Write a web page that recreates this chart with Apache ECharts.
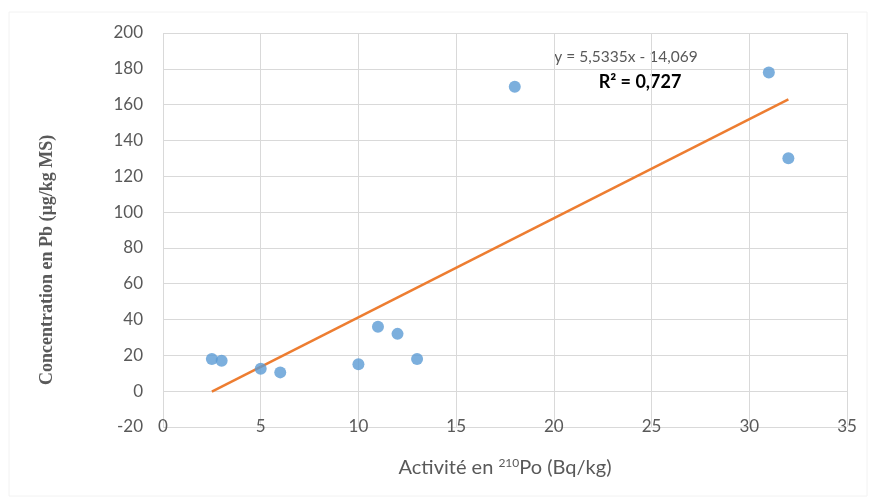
<!DOCTYPE html>
<html>
<head>
    <meta charset="utf-8"/>
    <title>ECharts</title>
    <script src="https://cdn.jsdelivr.net/npm/echarts@6/dist/echarts.min.js"></script>
    <style type="text/css">
        body{ margin:0; background:#fff; }
        #main{ width:870px; height:499px; }
    </style>
</head>
<body>
<div id="main"></div>
<script type="text/javascript">
    // mesures : activité 210Po (Bq/kg) et concentration Pb (µg/kg MS)
    var poActivity = [2.5, 3, 5, 6, 10, 11, 12, 13, 18, 31, 32];
    var pbConcentration = [18, 17, 12.5, 10.5, 15, 36, 32, 18, 170, 178, 130];

    // courbe de tendance (extrémités)
    var trendX = [2.5, 32];
    var trendY = [-0.2, 163];
    var trendEquation = 'y = 5,5335x - 14,069';
    var trendR2 = '0,727';

    var points = poActivity.map(function (x, i) { return [x, pbConcentration[i]]; });
    var trend = trendX.map(function (x, i) { return [x, trendY[i]]; });

    var myChart = echarts.init(document.getElementById('main'));
    var labelFont = 'Lato, "Open Sans", sans-serif';

    var option = {
        backgroundColor: '#ffffff',
        animation: false,
        grid: { left: 163, top: 33, right: 23, bottom: 72 },
        xAxis: {
            type: 'value',
            min: 0, max: 35, interval: 5,
            name: 'Activité en {sup|210}Po (Bq/kg)',
            nameLocation: 'middle',
            nameGap: 30,
            nameTextStyle: {
                color: '#595959', fontSize: 20, fontFamily: labelFont,
                rich: { sup: { fontSize: 12, verticalAlign: 'top', padding: [0, 0, 9, 0], color: '#595959', fontFamily: labelFont } }
            },
            axisLine: { show: false },
            axisTick: { show: false },
            axisLabel: { color: '#595959', fontSize: 17, fontFamily: labelFont, margin: 0, verticalAlign: 'middle' },
            splitLine: { lineStyle: { color: '#d9d9d9', width: 1 } }
        },
        yAxis: {
            type: 'value',
            min: -20, max: 200, interval: 20,
            axisLine: { show: false },
            axisTick: { show: false },
            axisLabel: { color: '#595959', fontSize: 17, fontFamily: labelFont, margin: 20 },
            splitLine: { lineStyle: { color: '#d9d9d9', width: 1 } }
        },
        series: [
            {
                type: 'line',
                data: trend,
                symbol: 'none',
                lineStyle: { color: '#ed7d31', width: 2.5 },
                z: 2
            },
            {
                type: 'scatter',
                data: points,
                symbolSize: 12,
                itemStyle: { color: '#5b9bd5' },
                z: 3
            }
        ],
        graphic: [
            { type: 'rect', shape: { x: 9, y: 12, width: 858, height: 484 },
              style: { fill: 'none', stroke: '#f2f2f2', lineWidth: 1 }, silent: true },
            { type: 'text', x: 47, y: 385, rotation: Math.PI / 2,
              style: { text: 'Concentration en Pb (µg/kg MS)', fill: '#595959', fontSize: 18, fontWeight: 'bold',
                       fontFamily: '"Liberation Serif", serif', align: 'left', verticalAlign: 'middle' } },
            { type: 'text', x: 626, y: 57,
              style: { text: trendEquation, fill: '#595959', fontSize: 15.5, fontFamily: labelFont, align: 'center', verticalAlign: 'middle' } },
            { type: 'text', x: 640, y: 82,
              style: { text: 'R² = ' + trendR2, fill: '#000000', fontSize: 18, fontWeight: 'bold', fontFamily: labelFont, align: 'center', verticalAlign: 'middle' } }
        ]
    };
    myChart.setOption(option);
</script>
</body>
</html>
